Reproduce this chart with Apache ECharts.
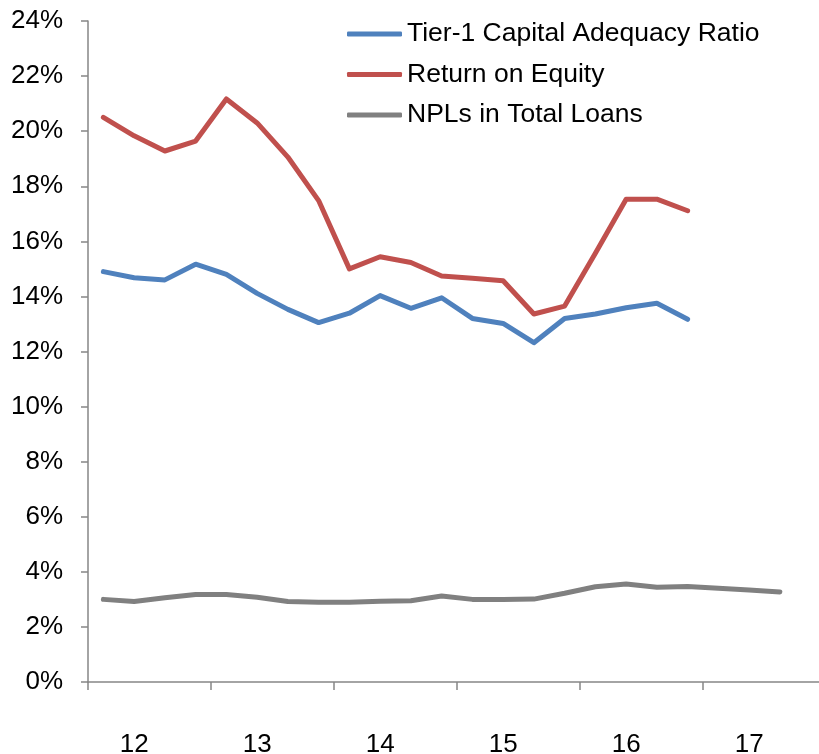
<!DOCTYPE html>
<html>
<head>
<meta charset="utf-8">
<script src="https://cdn.jsdelivr.net/npm/echarts@6/dist/echarts.min.js"></script>
<style>
html, body { margin: 0; padding: 0; background: #fff; }
#chart { width: 819px; height: 754px; }
</style>
</head>
<body>
<div id="chart"></div>
<script>
var quarters = ['12Q1','12Q2','12Q3','12Q4','13Q1','13Q2','13Q3','13Q4',
	'14Q1','14Q2','14Q3','14Q4','15Q1','15Q2','15Q3','15Q4',
	'16Q1','16Q2','16Q3','16Q4','17Q1','17Q2','17Q3','17Q4'];
var seriesNames = ['Tier-1 Capital Adequacy Ratio', 'Return on Equity', 'NPLs in Total Loans'];
var tier1 = [14.9, 14.68, 14.6, 15.17, 14.8, 14.11, 13.53, 13.05, 13.39, 14.03, 13.57, 13.95,
	13.2, 13.02, 12.32, 13.2, 13.36, 13.59, 13.75, 13.17];
var roe = [20.5, 19.83, 19.28, 19.64, 21.17, 20.3, 19.06, 17.48, 15.0, 15.44, 15.23, 14.74,
	14.66, 14.57, 13.36, 13.65, 15.57, 17.53, 17.53, 17.11];
var npl = [3.0, 2.92, 3.06, 3.18, 3.18, 3.08, 2.92, 2.9, 2.9, 2.93, 2.95, 3.12,
	3.0, 3.0, 3.01, 3.22, 3.46, 3.56, 3.44, 3.47, 3.40, 3.34, 3.27];
var colors = ['#4F81BD', '#C0504D', '#808080'];

var myChart = echarts.init(document.getElementById('chart'));
var font = 'Liberation Sans, Arial, sans-serif';

function lineSeries(name, data, color) {
	return {
		name: name,
		type: 'line',
		data: data,
		symbol: 'none',
		animation: false,
		lineStyle: { color: color, width: 5, cap: 'round', join: 'round' },
		itemStyle: { color: color }
	};
}

var option = {
	color: colors,
	animation: false,
	// the x axis runs a little past the right edge, as in the source image
	grid: { left: 88, top: 21, width: 738, bottom: 72, containLabel: false, outerBoundsMode: 'none' },
	legend: {
		data: seriesNames,
		orient: 'vertical',
		left: 342,
		top: 14,
		icon: 'roundRect',
		itemWidth: 55,
		itemHeight: 5,
		itemGap: 10.5,
		textStyle: { fontFamily: font, fontSize: 26.5, color: '#000', lineHeight: 30 }
	},
	xAxis: {
		type: 'category',
		data: quarters,
		boundaryGap: true,
		axisLine: { lineStyle: { color: '#868686', width: 1.5 } },
		axisTick: {
			show: true,
			length: 8,
			interval: function (idx) { return idx % 4 === 0; },
			lineStyle: { color: '#868686', width: 1.5 }
		},
		axisLabel: {
			interval: function (idx) { return idx % 4 === 1; },
			formatter: function (v) { return v.slice(0, 2); },
			margin: 50,
			fontFamily: font,
			fontSize: 26,
			color: '#000'
		},
		splitLine: { show: false }
	},
	yAxis: {
		type: 'value',
		min: 0,
		max: 24,
		interval: 2,
		axisLine: { show: true, lineStyle: { color: '#868686', width: 1.5 } },
		axisTick: { show: true, length: 7, lineStyle: { color: '#868686', width: 1.5 } },
		axisLabel: {
			formatter: '{value}%',
			margin: 25,
			fontFamily: font,
			fontSize: 26,
			color: '#000'
		},
		splitLine: { show: false }
	},
	series: [
		lineSeries(seriesNames[0], tier1, colors[0]),
		lineSeries(seriesNames[1], roe, colors[1]),
		lineSeries(seriesNames[2], npl, colors[2])
	]
};
myChart.setOption(option);
</script>
</body>
</html>
